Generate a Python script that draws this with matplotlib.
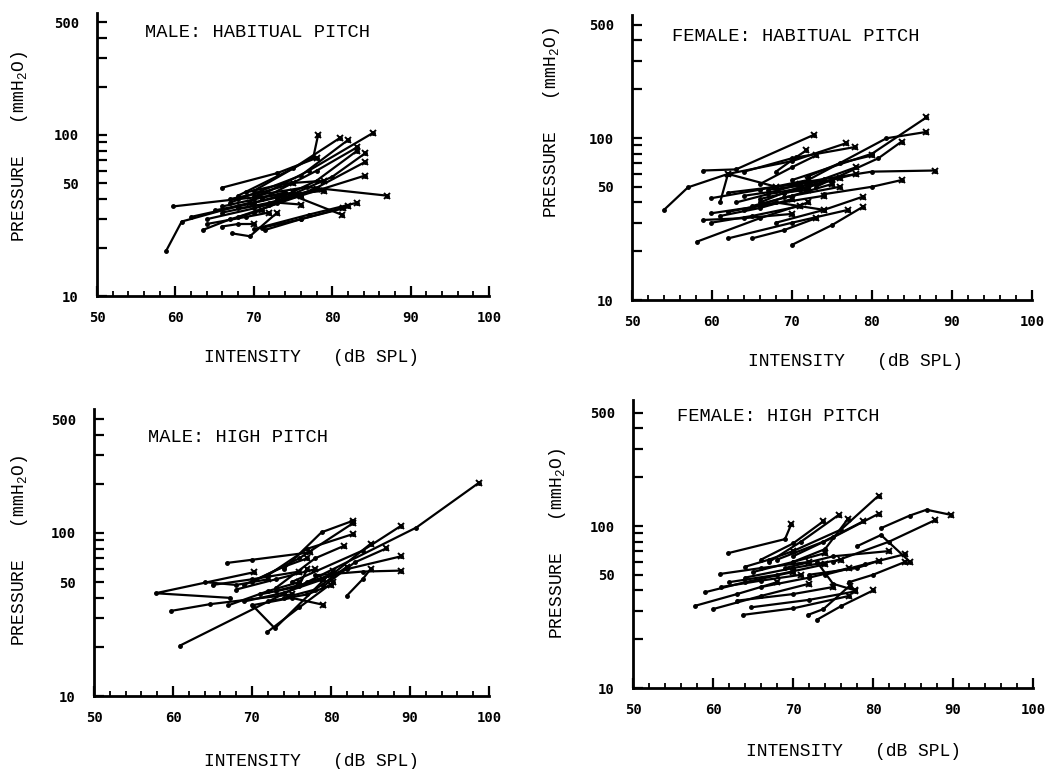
import matplotlib
matplotlib.use("Agg")
import matplotlib.pyplot as plt
from matplotlib.ticker import FixedLocator, NullFormatter, FixedFormatter

plt.rcParams['mathtext.fontset'] = 'custom'
plt.rcParams['mathtext.rm'] = 'Liberation Mono'

# ---------------- data (intensity dB SPL, pressure mmH2O) ----------------
mh_int = [[58.8, 60.8, 69.5], [59.7, 68, 79], [65.9, 73, 78], [70, 77, 85.2], [70, 77.6, 78.2],
          [68, 75, 81], [67, 76, 82], [71, 78, 83.2], [72, 80, 84.2], [70, 78, 84.2],
          [68, 76, 84.2], [70, 77, 83.2], [66, 74, 81.2], [63.5, 67, 71], [65.9, 68, 70],
          [67.2, 69.5, 73], [71.4, 76, 81.4], [71, 76, 82], [65, 70, 75], [69, 74, 79],
          [64, 70, 76], [70, 76.8, 87], [66, 72, 78], [68, 73, 76], [62, 68, 74],
          [73, 78, 83.2], [64, 69, 72], [67, 71, 75]]
mh_prs = [[19, 29, 38], [36, 40, 45], [47, 58, 72], [40, 60, 103], [45, 73, 100],
          [42, 62, 96], [38, 56, 93], [40, 60, 84], [37, 55, 77], [33, 47, 68],
          [31, 42, 56], [26, 32, 38], [36, 44, 32], [25.7, 30, 34], [27, 28, 28],
          [24.5, 23.5, 33], [25.7, 30, 35], [26.5, 30, 36], [34, 38, 44], [44, 50, 52],
          [30, 35, 42], [42, 47.5, 42], [33, 38, 46], [35, 38, 37], [31, 36, 42],
          [40, 52, 80], [28, 31, 33], [40, 44, 50]]

fh_int = [[54, 57, 62], [58.9, 63, 72.8], [62, 70, 76.8], [64, 70, 77.9], [58.1, 66, 72],
          [62, 70, 77], [65, 69, 73], [70, 75, 78.9], [68, 74, 78.9], [70, 80, 86.8],
          [72, 81.8, 86.8], [73, 80.8, 83.7], [70, 80, 87.9], [74, 80, 83.7], [59.9, 66, 72],
          [59.9, 66, 74], [58.9, 64, 70], [59.9, 65, 71], [61, 62, 68], [62, 68, 75],
          [64, 69, 76], [63, 67, 72], [66, 71, 76], [65, 70, 75], [61, 66, 70],
          [67, 73, 78], [62, 68, 74], [69, 74, 78], [72, 76, 80], [66, 70, 73],
          [68, 70.5, 71.8], [64, 68, 71], [66, 69, 72]]
fh_prs = [[36, 49.6, 60], [63, 64, 105], [60, 72, 93], [62, 75, 88], [22.9, 32, 40],
          [24, 30, 36], [24, 27, 32], [21.9, 29, 37.7], [30, 36, 43.5], [55, 80, 134],
          [55, 99.6, 109], [50, 75, 95], [52, 62, 63], [45, 50, 55], [42.5, 48, 55],
          [34.3, 38, 44], [31.2, 32, 34], [30, 33, 38], [40, 60, 50], [46, 50, 55],
          [36, 43, 50], [40, 45, 50], [42, 48, 57], [38, 44, 52], [33, 37, 42],
          [48, 52, 60], [35, 40, 36], [46, 56, 66], [58, 70, 78], [52, 66, 78],
          [62, 76, 84], [44, 47, 52], [40, 46, 48]]

mp_int = [[60.9, 90.8, 98.7], [67.2, 57.8, 70.2], [59.8, 64.7, 75], [66.8, 70, 77.3],
          [70.1, 72.9, 80.3], [71.9, 76, 80.3], [74, 78.8, 82.8], [72, 77, 82.8],
          [70, 76, 82.8], [73, 78, 81.7], [75, 84, 88.9], [76, 82, 88.9],
          [78, 84, 88.9], [77, 80, 85], [79, 83, 87], [82, 84, 85], [70, 75, 79],
          [65, 70, 76], [68, 73, 78], [69, 74, 79], [71, 75, 80], [67, 72, 76],
          [72, 77, 80], [73, 76, 77], [69, 74, 77], [74, 78, 82], [64, 68, 72]]
mp_prs = [[20.4, 108, 203], [40, 42.7, 57.4], [33.3, 36.6, 42], [65.5, 68.5, 76],
          [35.8, 26, 58.8], [24.6, 35, 50], [60, 101, 119], [55, 80, 98.6],
          [50, 70, 115], [46, 70, 83.6], [50, 78, 111], [47, 60, 72],
          [55, 58, 58.8], [50, 55, 85.7], [47, 66, 80.5], [41.2, 52, 60], [36, 40, 36.3],
          [48, 52, 58], [45, 52, 60], [38, 43, 52], [42, 46, 55], [36, 44, 50],
          [38, 42, 48], [44, 48, 60], [48, 62, 70], [40, 45, 62], [50, 48, 52]]

fp_int = [[61.9, 69, 69.8], [70, 76, 80.7], [70, 75, 80.7], [68, 73.8, 78.8], [67, 71, 75.7],
          [66, 70, 73.8], [70, 74, 76.9], [81, 84.6, 86.7, 89.8], [75, 82, 87.8], [78, 81, 84.6],
          [72, 78, 80.7], [77, 80, 84], [60.9, 66, 72], [59, 64, 70], [57.8, 63, 68],
          [60, 66, 72], [63, 70, 75], [63.8, 70, 77], [64.8, 72, 77.8], [71.9, 73.8, 77.1],
          [73, 76, 80], [62, 68, 74], [64, 70, 76], [66, 72, 77], [65, 70, 74],
          [61, 66, 71], [73, 75, 77.8], [69, 75, 82], [74, 79, 84], [64, 67, 70]]
fp_prs = [[68, 83, 103], [70, 95, 154], [65, 85, 119], [62, 80, 107], [60, 80, 117],
          [62, 78, 107], [60, 72, 111], [97, 116, 126, 117], [60, 80, 109], [75, 88, 60.2],
          [50, 55, 61], [45, 50, 60], [50.6, 55, 60], [39, 45, 52], [32.2, 38, 45],
          [30.7, 37, 44], [34.6, 38, 42], [28.3, 31, 37], [31.5, 35, 39.5], [28.3, 30.7, 42.8],
          [26.4, 32, 40], [45, 50, 58], [48, 55, 62], [42, 48, 55], [52, 60, 68],
          [42, 46, 50], [60, 44, 40], [55, 65, 70], [50, 58, 67], [56, 62, 70]]

titles = ["MALE: HABITUAL PITCH", "FEMALE: HABITUAL PITCH",
          "MALE: HIGH PITCH", "FEMALE: HIGH PITCH"]
x_ticks = [50, 60, 70, 80, 90, 100]
x_ticklabels = ["50", "60", "70", "80", "90", "100"]
y_ticks = [10, 50, 100, 500]
y_ticklabels = ["10", "50", "100", "500"]
y_minor = [20, 30, 40, 60, 70, 80, 90, 200, 300, 400]

# ---------------- layout ----------------
W, H = 1055, 769
fig = plt.figure(figsize=(W / 100, H / 100), dpi=100)

# panel geometry in pixels: (left_px, right_px, bottom_px, top_px)
geoms = [(97, 489, 296, 13), (632, 1032, 300, 15), (94, 489, 696, 409), (633, 1033, 688, 400)]
decades = [161, 162, 163, 162]
title_pos = [(0.122, 0.93), (0.10, 0.923), (0.137, 0.902), (0.11, 0.941)]
ylab_pos = [(20, 147), (552, 123), (20, 551), (557, 544)]
xlab_pos = [(312, 358), (855, 362), (311, 761), (853, 751)]

datasets = [(mh_int, mh_prs), (fh_int, fh_prs), (mp_int, mp_prs), (fp_int, fp_prs)]

mono = 'Liberation Mono'

for i, ((lp, rp, bp, tp), dec) in enumerate(zip(geoms, decades)):
    ax = fig.add_axes([lp / W, 1 - bp / H, (rp - lp) / W, (bp - tp) / H])
    ymax = 10 ** (1 + (bp - tp) / dec)
    ax.set_yscale('log')
    ax.set_xlim(50, 100)
    ax.set_ylim(10, ymax)
    ints, prs = datasets[i]
    for xs, ys in zip(ints, prs):
        ax.plot(xs, ys, color='black', lw=1.6, marker='o', ms=2.5,
                solid_capstyle='round')
        ax.plot(xs[-1], ys[-1], color='black', marker='x', ms=4.5, mew=1.4)
    for s in ['top', 'right']:
        ax.spines[s].set_visible(False)
    for s in ['left', 'bottom']:
        ax.spines[s].set_linewidth(2)
    ax.xaxis.set_major_locator(FixedLocator(x_ticks))
    ax.xaxis.set_major_formatter(FixedFormatter(x_ticklabels))
    ax.xaxis.set_minor_locator(FixedLocator(list(range(50, 101, 2))))
    ax.yaxis.set_major_locator(FixedLocator(y_ticks))
    ax.yaxis.set_major_formatter(FixedFormatter(y_ticklabels))
    ax.yaxis.set_minor_locator(FixedLocator(y_minor))
    ax.yaxis.set_minor_formatter(NullFormatter())
    ax.tick_params(axis='x', which='major', direction='in', length=7, width=1.6, pad=11)
    ax.tick_params(axis='x', which='minor', direction='in', length=3.5, width=1.3)
    ax.tick_params(axis='y', which='both', direction='in', length=7, width=1.6, pad=13)
    for lab in ax.get_xticklabels() + ax.get_yticklabels():
        lab.set_fontfamily('DejaVu Sans Mono')
        lab.set_fontweight('bold')
        lab.set_fontsize(10)
    tx, ty = title_pos[i]
    ax.text(tx, ty, titles[i], transform=ax.transAxes, fontfamily=mono,
            fontsize=13.5, va='center', ha='left')
    yx, yy = ylab_pos[i]
    fig.text(yx / W, 1 - yy / H, "PRESSURE   (mmH$_{2}$O)", rotation=90,
             fontfamily=mono, fontsize=13, ha='center', va='center')
    xx, xy = xlab_pos[i]
    fig.text(xx / W, 1 - xy / H, "INTENSITY   (dB SPL)", fontfamily=mono,
             fontsize=13, ha='center', va='center')

fig.savefig("out.png", dpi=100)
